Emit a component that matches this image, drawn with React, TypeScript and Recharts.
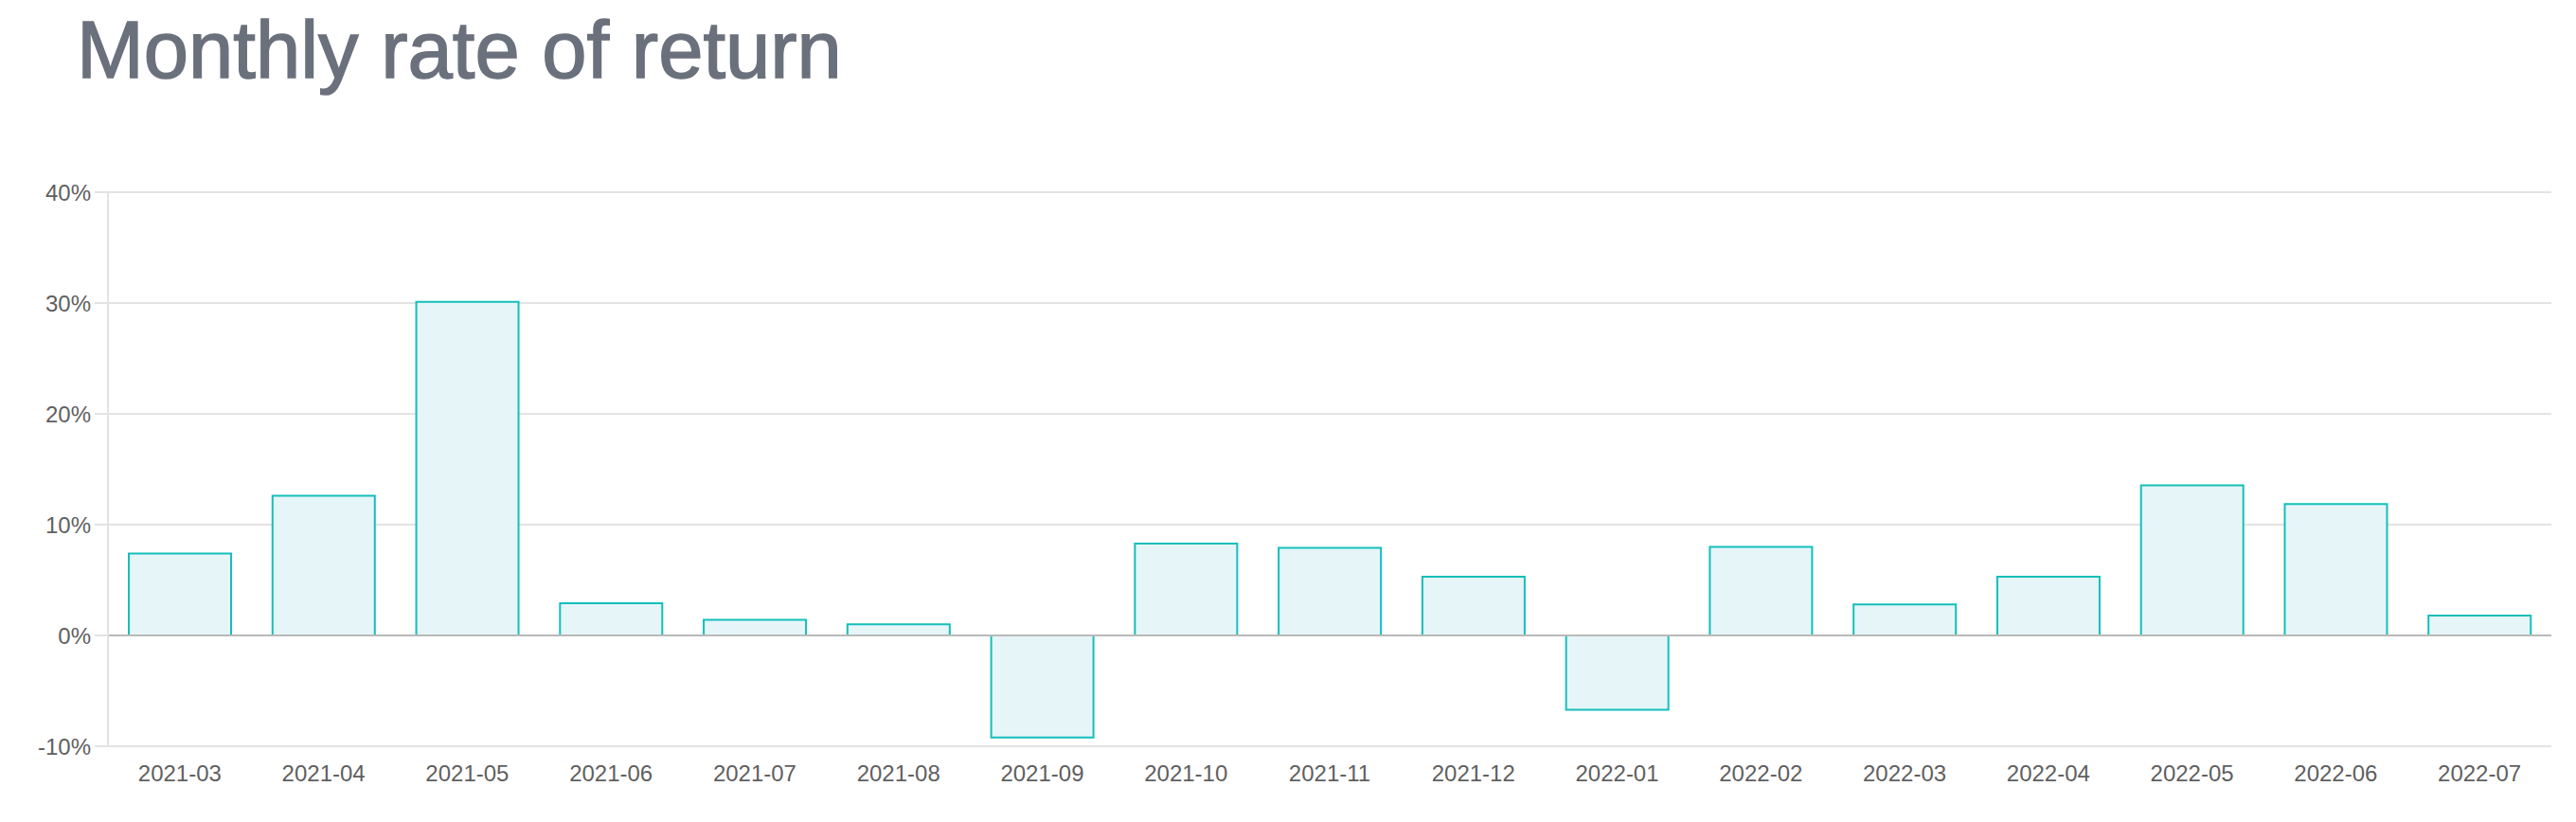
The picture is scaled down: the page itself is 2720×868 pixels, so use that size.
import { BarChart, Bar, XAxis, YAxis, CartesianGrid, ReferenceLine } from 'recharts';

const months = [
  '2021-03', '2021-04', '2021-05', '2021-06', '2021-07', '2021-08', '2021-09', '2021-10', '2021-11',
  '2021-12', '2022-01', '2022-02', '2022-03', '2022-04', '2022-05', '2022-06', '2022-07',
];
const returns = [7.4, 12.6, 30.1, 2.9, 1.4, 1.0, -9.2, 8.3, 7.9, 5.3, -6.7, 8.0, 2.8, 5.3, 13.55, 11.85, 1.8];
const yTicks = [-10, 0, 10, 20, 30, 40];

const data = months.map((month, i) => ({ month, value: returns[i] }));

const FONT = '"Liberation Sans", Arial, Helvetica, sans-serif';

const App = () => (
  <div style={{ position: 'relative', width: 2704, height: 850, fontFamily: FONT }}>
    <div
      style={{
        position: 'absolute',
        left: 73,
        top: 3,
        fontSize: 85,
        lineHeight: '84px',
        color: '#6b717c',
        WebkitTextStroke: '1.5px #6b717c',
        whiteSpace: 'nowrap',
      }}
    >
      Monthly rate of return
    </div>
    <BarChart
      width={2704}
      height={850}
      data={data}
      margin={{ top: 195, right: 18, left: 0, bottom: 30 }}
      barCategoryGap="14.5%"
    >
      <CartesianGrid vertical={false} stroke="#e3e3e3" strokeWidth={2} />
      <XAxis
        dataKey="month"
        axisLine={{ stroke: '#e3e3e3', strokeWidth: 2 }}
        tickLine={false}
        tickSize={10}
        tickMargin={10}
        height={40}
        interval={0}
        tick={{ fill: '#5f5f5f', fontSize: 24, fontFamily: FONT }}
      />
      <YAxis
        domain={[-10, 40]}
        ticks={yTicks}
        width={106}
        axisLine={{ stroke: '#e3e3e3', strokeWidth: 2 }}
        tickLine={{ stroke: '#e3e3e3', strokeWidth: 2 }}
        tickSize={14}
        tickMargin={4}
        tickFormatter={(v) => `${v}%`}
        tick={{ fill: '#5f5f5f', fontSize: 24, fontFamily: FONT }}
      />
      <Bar dataKey="value" fill="#e6f5f8" stroke="#14bfbb" strokeWidth={2} isAnimationActive={false} />
      <ReferenceLine y={0} stroke="#b9b9b9" strokeWidth={2} />
    </BarChart>
  </div>
);

export default App;
